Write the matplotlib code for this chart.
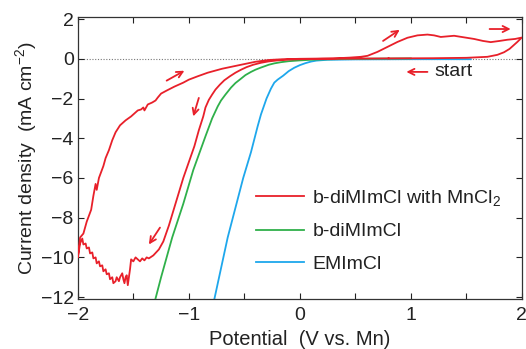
import matplotlib
matplotlib.use("Agg")
import matplotlib.pyplot as plt

plt.rcParams["font.family"] = ["Liberation Sans", "DejaVu Sans"]
plt.rcParams["mathtext.fontset"] = "custom"
plt.rcParams["mathtext.rm"] = "Liberation Sans"
plt.rcParams["mathtext.it"] = "Liberation Sans"

# b-diMImCl with MnCl2 (CV loop, starts at ~0.8 V going negative)
red_x = [0.8, 0.5, 0.2, 0.0, -0.1, -0.2, -0.28, -0.35, -0.42, -0.48, -0.53, -0.58,
         -0.63, -0.68, -0.72, -0.76, -0.79, -0.82, -0.85, -0.87, -0.91, -0.95, -1.0,
         -1.05, -1.12, -1.18, -1.23, -1.27, -1.32, -1.36,
         -1.38, -1.40, -1.42, -1.44, -1.46, -1.48, -1.50, -1.52, -1.53, -1.54, -1.55,
         -1.56, -1.57, -1.58, -1.59, -1.60, -1.62, -1.63, -1.65, -1.66, -1.68, -1.69,
         -1.71, -1.72, -1.74, -1.75, -1.77, -1.78, -1.80, -1.81, -1.83, -1.84, -1.86,
         -1.87, -1.89, -1.90, -1.92, -1.93, -1.95, -1.96, -1.98,
         -2.0, -1.98, -1.95, -1.92, -1.88, -1.86, -1.85, -1.84, -1.83, -1.81, -1.79,
         -1.77, -1.75, -1.72, -1.69, -1.66, -1.62, -1.57, -1.52, -1.49, -1.46, -1.43,
         -1.41, -1.40, -1.37, -1.33, -1.30, -1.28, -1.25, -1.2, -1.13, -1.05, -1.0,
         -0.92, -0.83, -0.7, -0.6, -0.53, -0.4, -0.28, -0.15, 0.0, 0.3, 0.45, 0.55,
         0.61, 0.7, 0.79, 0.88, 0.97, 1.06, 1.15, 1.21, 1.27, 1.33, 1.39, 1.48, 1.57,
         1.65, 1.72, 1.8, 1.87, 1.94, 2.0, 1.96, 1.93, 1.89, 1.84, 1.78, 1.69, 1.5,
         1.2, 0.8]
red_y = [0.02, 0.01, 0.0, -0.02, -0.04, -0.08, -0.13, -0.2, -0.3, -0.42, -0.55, -0.7,
         -0.88, -1.08, -1.3, -1.55, -1.8, -2.07, -2.45, -2.9, -3.6, -4.4, -5.2,
         -6.0, -7.3, -8.4, -9.2, -9.6, -9.9, -10.05,
         -10.0, -10.15, -10.05, -10.2, -10.1, -10.0, -10.2, -10.1, -10.6, -11.0, -11.4,
         -10.9, -11.0, -11.3, -11.1, -10.8, -11.0, -11.2, -11.0, -11.2, -11.3, -11.0,
         -11.1, -10.8, -10.85, -10.6, -10.7, -10.4, -10.45, -10.2, -10.3, -10.0, -10.05,
         -9.75, -9.8, -9.5, -9.55, -9.3, -9.35, -9.05, -9.3,
         -10.0, -9.0, -8.8, -8.2, -7.6, -6.9, -6.6, -6.3, -6.6, -6.0, -5.7,
         -5.4, -5.0, -4.6, -4.1, -3.7, -3.35, -3.1, -2.9, -2.75, -2.6, -2.55,
         -2.45, -2.6, -2.3, -2.2, -2.1, -1.95, -1.75, -1.6, -1.4, -1.2, -1.05,
         -0.88, -0.7, -0.5, -0.38, -0.3, -0.15, -0.06, -0.02, 0.0, 0.02, 0.06, 0.1,
         0.15, 0.35, 0.6, 0.85, 1.06, 1.18, 1.22, 1.18, 1.1, 1.13, 1.16, 1.08, 1.0,
         0.9, 0.84, 0.9, 0.96, 1.0, 1.07, 0.85, 0.7, 0.5, 0.33, 0.2, 0.1, 0.05,
         0.03, 0.02]

# b-diMImCl
green_x = [1.0, 0.5, 0.2, 0.1, 0.0, -0.1, -0.17, -0.23, -0.28, -0.35, -0.4, -0.44,
           -0.49, -0.53, -0.58, -0.62, -0.67, -0.71, -0.74, -0.79, -0.85, -0.96,
           -1.05, -1.15, -1.25, -1.30]
green_y = [0.02, 0.0, -0.03, -0.05, -0.08, -0.12, -0.17, -0.23, -0.3, -0.44, -0.55, -0.66,
           -0.82, -1.0, -1.22, -1.45, -1.8, -2.1, -2.4, -3.0, -3.9, -5.6,
           -7.3, -9.0, -11.0, -12.07]

# EMImCl
blue_x = [1.54, 1.0, 0.5, 0.25, 0.15, 0.1, 0.05, 0.0, -0.05, -0.1, -0.15, -0.2,
          -0.23, -0.26, -0.3, -0.35, -0.38, -0.44, -0.51, -0.65, -0.77]
blue_y = [-0.02, -0.02, -0.03, -0.05, -0.09, -0.14, -0.22, -0.32, -0.45, -0.62, -0.85, -1.05,
          -1.2, -1.5, -2.0, -2.8, -3.4, -4.7, -6.0, -9.0, -12.1]

labels = ["b-diMImCl with MnCl$_2$", "b-diMImCl", "EMImCl"]
colors = ["#e8202a", "#2fb04a", "#1ea7ec"]

# arrows: (start, end)
arrows = [((-1.2, -1.1), (-1.04, -0.6)),
          ((-0.91, -1.97), (-0.96, -2.9)),
          ((-1.26, -8.5), (-1.36, -9.35)),
          ((0.75, 0.9), (0.90, 1.46)),
          ((1.71, 1.5), (1.90, 1.5)),
          ((1.15, -0.66), (0.96, -0.66))]

fig = plt.figure(figsize=(5.26, 3.49), dpi=100)
ax = fig.add_axes([0.148, 0.143, 0.844, 0.808])

ax.axhline(0, color="#777777", lw=0.8, ls=(0, (1, 1.5)), zorder=1)
ax.plot(blue_x, blue_y, color=colors[2], lw=1.3, label=labels[2], zorder=2)
ax.plot(green_x, green_y, color=colors[1], lw=1.3, label=labels[1], zorder=3)
ax.plot(red_x, red_y, color=colors[0], lw=1.3, label=labels[0], zorder=4)

for (x0, y0), (x1, y1) in arrows:
    ax.annotate("", xy=(x1, y1), xytext=(x0, y0),
                arrowprops=dict(arrowstyle="->", color=colors[0], lw=1.3,
                                mutation_scale=11, shrinkA=0, shrinkB=0))
ax.text(1.21, -0.66, "start", fontsize=14, va="center", ha="left", color="#222222")

ax.set_xlim(-2, 2)
ax.set_ylim(-12.1, 2.1)
ax.set_xticks([-2, -1.5, -1, -0.5, 0, 0.5, 1, 1.5, 2])
ax.set_xticklabels(["\u22122", "", "\u22121", "", "0", "", "1", "", "2"])
ax.set_yticks([2, 0, -2, -4, -6, -8, -10, -12])
ax.set_yticklabels(["2", "0", "\u22122", "\u22124", "\u22126", "\u22128", "\u221210", "\u221212"])
ax.tick_params(direction="in", length=4, width=0.8, top=True, right=True,
               labelsize=14, colors="#222222", pad=3)
ax.tick_params(axis="x", pad=6)
for s in ax.spines.values():
    s.set_linewidth(0.9)
    s.set_color("#333333")

ax.set_xlabel("Potential  (V vs. Mn)", fontsize=14.5, color="#222222", labelpad=4)
ax.set_ylabel("Current density  (mA cm$^{-2}$)", fontsize=14, color="#222222", labelpad=1)

handles, labs = ax.get_legend_handles_labels()
order = [2, 1, 0]
leg = ax.legend([handles[i] for i in order], [labs[i] for i in order],
                loc="upper left", bbox_to_anchor=(0.401, 0.395), frameon=False,
                fontsize=14, handlelength=2.5, handletextpad=0.4,
                labelspacing=0.78, borderpad=0, borderaxespad=0)
for t in leg.get_texts():
    t.set_color("#222222")

fig.savefig("out.png", dpi=100)
